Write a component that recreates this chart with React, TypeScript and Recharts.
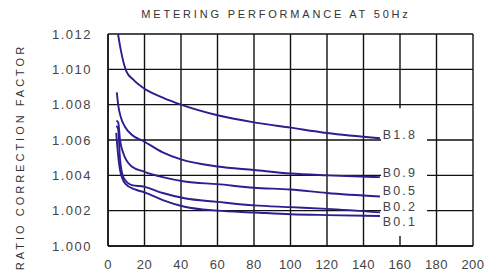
import React from 'react';
import { LineChart, Line, XAxis, YAxis, CartesianGrid, ReferenceArea, ReferenceDot } from 'recharts';

const seriesNames = ['B1.8', 'B0.9', 'B0.5', 'B0.2', 'B0.1'];

const xB18 = [5.5, 7, 10, 14, 20, 30, 40, 60, 80, 100, 120, 149];
const yB18 = [1.012, 1.0111, 1.0099, 1.0094, 1.0089, 1.0084, 1.008, 1.0074, 1.007, 1.0067, 1.0064, 1.0061];

const xB09 = [4.8, 5.7, 7, 9.3, 13, 20, 30, 40, 60, 80, 100, 120, 149];
const yB09 = [1.0087, 1.0079, 1.0073, 1.00675, 1.0063, 1.0059, 1.0053, 1.0049, 1.0045, 1.0043, 1.0041, 1.004, 1.0039];

const xB05 = [4.6, 5.6, 6.6, 8.4, 13, 20, 30, 42, 60, 80, 100, 120, 149];
const yB05 = [1.0071, 1.007, 1.006, 1.00525, 1.0045, 1.0042, 1.0039, 1.00365, 1.0035, 1.0033, 1.0032, 1.003, 1.0028];

const xB02 = [4.6, 5.6, 6.6, 8.4, 13, 20, 30, 42, 60, 80, 100, 120, 149];
const yB02 = [1.0068, 1.0066, 1.0049, 1.0039, 1.00345, 1.00335, 1.003, 1.0027, 1.0025, 1.0023, 1.0022, 1.0021, 1.0019];

const xB01 = [4.5, 4.8, 6.6, 9.3, 14.8, 20, 30, 42, 60, 80, 100, 120, 149];
const yB01 = [1.0064, 1.006, 1.0043, 1.00355, 1.0032, 1.00304, 1.0026, 1.00222, 1.002, 1.0019, 1.0018, 1.00175, 1.0017];

const labelX = 150.5;
const labelY = [1.0063, 1.00418, 1.00316, 1.00226, 1.0014];

const xTicks = [0, 20, 40, 60, 80, 100, 120, 140, 160, 180, 200];
const yTicks = [1.0, 1.002, 1.004, 1.006, 1.008, 1.01, 1.012];

const titleText = 'METERING PERFORMANCE AT 50Hz';
const yLabelText = 'RATIO CORRECTION FACTOR';

const zip = (xs: number[], ys: number[]) => xs.map((x, i) => ({ x, y: ys[i] }));
const allSeries = [zip(xB18, yB18), zip(xB09, yB09), zip(xB05, yB05), zip(xB02, yB02), zip(xB01, yB01)];

const lineColor = '#2a1f8f';
const font = 'Liberation Sans, Arial, sans-serif';

export default function App() {
  return (
    <div style={{ position: 'absolute', left: 0, top: 0, width: 491, height: 280, background: '#fff', overflow: 'hidden' }}>
      <div style={{ position: 'absolute', left: 0, top: 8, width: 552, textAlign: 'center', fontFamily: font, fontSize: 11, letterSpacing: 2.8, color: '#333' }}>
        {titleText}
      </div>
      <div style={{ position: 'absolute', left: 20 - 130, top: 157 - 7, width: 260, height: 14, lineHeight: '14px', textAlign: 'center', transform: 'rotate(-90deg)', fontFamily: font, fontSize: 11, letterSpacing: 3, color: '#333' }}>
        {yLabelText}
      </div>
      <LineChart width={491} height={280} margin={{ top: 34, right: 18, bottom: 4, left: 40 }} style={{ position: 'absolute', left: 0, top: 0 }}>
        <CartesianGrid stroke="#111" strokeWidth={1.4} horizontalValues={yTicks} verticalValues={xTicks} />
        <XAxis type="number" dataKey="x" domain={[0, 200]} ticks={xTicks} allowDataOverflow interval={0}
          tick={{ fill: '#444', fontSize: 13, fontFamily: font, letterSpacing: 0.5 }} tickLine={false}
          axisLine={{ stroke: '#111', strokeWidth: 1.4 }} height={30} tickMargin={8} />
        <YAxis type="number" dataKey="y" domain={[1.0, 1.012]} ticks={yTicks} allowDataOverflow interval={0}
          tickFormatter={(v: number) => v.toFixed(3)}
          tick={{ fill: '#444', fontSize: 13, fontFamily: font, letterSpacing: 1.5 }} tickLine={false}
          axisLine={{ stroke: '#111', strokeWidth: 1.4 }} width={68} tickMargin={10} />
        <ReferenceArea x1={149.6} x2={174.8} y1={1.00057} y2={1.0078} fill="#fff" fillOpacity={1} stroke="none" ifOverflow="hidden" />
        {allSeries.map((d, i) => (
          <Line key={seriesNames[i]} data={d} dataKey="y" type="monotone" stroke={lineColor} strokeWidth={1.9} dot={false} isAnimationActive={false} />
        ))}
        {seriesNames.map((n, i) => (
          <ReferenceDot key={'l' + n} x={labelX} y={labelY[i]} r={0}
            shape={(p: any) => (
              <text x={p.cx} y={p.cy} dy="0.36em" fill="#444" fontSize={12.5} fontFamily={font} letterSpacing={2.2}>{n}</text>
            )} />
        ))}
      </LineChart>
    </div>
  );
}
